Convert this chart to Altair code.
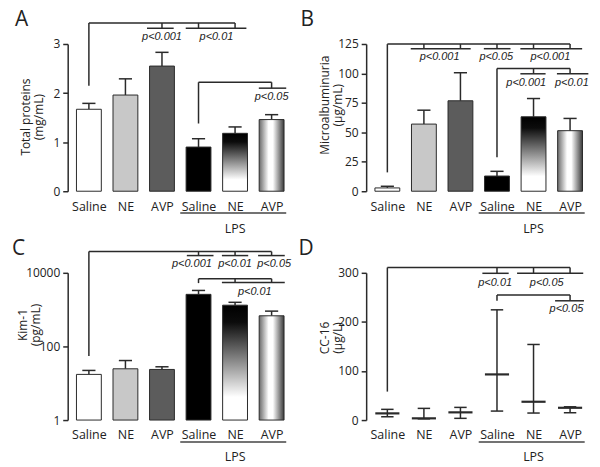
import altair as alt
import pandas as pd

# ---------------- data ----------------
groups = ["Saline", "NE", "AVP", "Saline", "NE", "AVP"]
group_pos = [0, 1, 2, 3, 4, 5]
solid_fills = ["#ffffff", "#c8c8c8", "#5c5c5c", "#000000"]
panel_letters = ["A", "B", "C", "D"]
lps_label = "LPS"
lps_span = [2.5, 5.4]
lps_center = 4

protein_mean = [1.67, 1.96, 2.55, 0.90, 1.18, 1.46]
protein_upper = [1.79, 2.29, 2.83, 1.07, 1.31, 1.56]

albumin_mean = [2.8, 57.0, 76.8, 12.9, 63.2, 51.4]
albumin_upper = [4.2, 68.8, 100.6, 16.9, 78.7, 61.8]

kim_mean = [17.4, 24.7, 23.7, 2600, 1320, 680]
kim_upper = [22.3, 41.4, 28.0, 3320, 1580, 910]

cc16_median = [13.6, 3.5, 15.7, 93.0, 37.3, 25.0]
cc16_min = [6.7, 2.5, 3.5, 18.3, 14.3, 14.9]
cc16_max = [21.8, 23.8, 25.8, 224.6, 154.0, 27.0]

# brackets: level y, from/to group, stem end, tick groups, tick end, short spans
protein_brackets = [
    dict(y=3.43, x0=0, x1=4, stem=2.15, ticks=[2, 3, 4], tick_end=3.32,
         spans=[(1.59, 2.32), (2.65, 4.31)]),
    dict(y=2.22, x0=3, x1=5, stem=1.38, ticks=[5], tick_end=2.10,
         spans=[(4.65, 5.40)]),
]
protein_pvals = [("p<0.001", 2.0, 3.14), ("p<0.01", 3.49, 3.14), ("p<0.05", 5.0, 1.91)]

albumin_brackets = [
    dict(y=124.9, x0=0, x1=5, stem=16, ticks=[1, 2, 3, 4, 5], tick_end=121,
         spans=[(0.64, 2.28), (2.64, 3.37), (3.64, 5.33)]),
    dict(y=104.2, x0=3, x1=5, stem=28.9, ticks=[4, 5], tick_end=99.7,
         spans=[(3.64, 4.33), (4.64, 5.50)]),
]
albumin_pvals = [("p<0.001", 1.43, 113.7), ("p<0.05", 2.98, 113.7), ("p<0.001", 4.46, 113.7),
                 ("p<0.001", 3.8, 92.1), ("p<0.01", 5.05, 92.1)]

kim_brackets = [
    dict(y=37650, x0=0, x1=5, stem=55, ticks=[3, 4, 5], tick_end=29400,
         spans=[(2.68, 3.41), (3.64, 4.36), (4.63, 5.36)]),
    dict(y=6890, x0=3, x1=5, stem=5250, ticks=[4, 5], tick_end=5470,
         spans=[(3.64, 5.36)]),
]
kim_pvals = [("p<0.001", 2.82, 17500), ("p<0.01", 4.0, 17500), ("p<0.05", 5.07, 17500),
             ("p<0.01", 4.54, 3090)]

cc16_brackets = [
    dict(y=310.8, x0=0, x1=5, stem=58, ticks=[3, 4, 5], tick_end=299,
         spans=[(2.6, 3.32), (3.55, 5.36)]),
    dict(y=255, x0=3, x1=5, stem=243, ticks=[5], tick_end=243,
         spans=[(4.59, 5.38)]),
]
cc16_pvals = [("p<0.01", 2.95, 279), ("p<0.05", 4.36, 279), ("p<0.05", 4.9, 226)]

# ---------------- style / layout ----------------
W, H = 227, 148
XDOM = [-0.58, 5.6]
INK = "#222222"
LINE = "#2a2a2a"
FONT = "Open Sans"

label_expr = "[" + ",".join("'%s'" % g for g in groups) + "][datum.value]"
x_scale = alt.Scale(domain=XDOM, nice=False, zero=False)
x_axis = alt.Axis(values=group_pos, labelExpr=label_expr, title=None, domain=False,
                  ticks=False, tickSize=0, grid=False, labelPadding=9,
                  labelFontSize=12.5, labelFont=FONT, labelColor=INK,
                  labelFlush=False, labelOverlap=False, labelBound=False)


def X(field):
    return alt.X(field, type="quantitative", scale=x_scale, axis=x_axis)


def make_Y(yscale, yaxis):
    def Y(field):
        return alt.Y(field, type="quantitative", scale=yscale, axis=yaxis)
    return Y


def y_axis(title, values, title_y, fmt=None, title_x=-35):
    kw = dict(title=title, values=values, grid=False, domain=True, domainColor=LINE,
              domainWidth=1.5, ticks=True, tickSize=5, tickWidth=1.5, tickColor=LINE,
              labelFont=FONT, labelFontSize=12, labelColor=INK, labelPadding=3,
              titleFont=FONT, titleFontSize=12, titleFontWeight="normal", titleColor=INK,
              titleX=title_x, titleY=title_y, titleLineHeight=13, titleBaseline="bottom",
              titleAlign="center")
    if fmt:
        kw["format"] = fmt
    return alt.Axis(**kw)


ne_grad = {"gradient": "linear", "x1": 0, "x2": 0, "y1": 0, "y2": 1,
           "stops": [{"offset": 0, "color": "#000000"}, {"offset": 0.15, "color": "#0c0c0c"},
                     {"offset": 0.8, "color": "#ffffff"}, {"offset": 1, "color": "#ffffff"}]}
avp_grad = {"gradient": "linear", "x1": 0, "x2": 1, "y1": 0, "y2": 0,
            "stops": [{"offset": 0, "color": "#6a6a6a"}, {"offset": 0.38, "color": "#ffffff"},
                      {"offset": 0.55, "color": "#ffffff"}, {"offset": 1, "color": "#3a3a3a"}]}


def bracket_segments(brackets):
    rows = []
    for b in brackets:
        rows.append(dict(xa=b["x0"], xb=b["x1"], ya=b["y"], yb=b["y"]))
        rows.append(dict(xa=b["x0"], xb=b["x0"], ya=b["y"], yb=b["stem"]))
        for t in b["ticks"]:
            rows.append(dict(xa=t, xb=t, ya=b["y"], yb=b["tick_end"]))
        for a, c in b["spans"]:
            rows.append(dict(xa=a, xb=c, ya=b["tick_end"], yb=b["tick_end"]))
    return pd.DataFrame(rows)


def bracket_layers(brackets, pvals, Y):
    seg = bracket_segments(brackets)
    rules = alt.Chart(seg).mark_rule(color=LINE, strokeWidth=1.5).encode(
        x=X("xa"), x2="xb", y=Y("ya"), y2="yb")
    pv = pd.DataFrame(pvals, columns=["label", "pos", "yv"])
    txt = alt.Chart(pv).mark_text(font="Liberation Sans", fontStyle="italic", fontSize=11,
                                  color=INK, baseline="middle", align="center").encode(
        x=X("pos"), y=Y("yv"), text="label:N")
    return [rules, txt]


def bar_layers(mean, upper, base, Y):
    df = pd.DataFrame({"pos": group_pos, "val": mean, "up": upper, "base": [base] * 6})
    b = alt.Chart(df).transform_calculate(
        xl="datum.pos - 0.34", xr="datum.pos + 0.34",
        cl="datum.pos - 0.18", cr="datum.pos + 0.18")
    err = b.mark_rule(color=LINE, strokeWidth=1.5).encode(x=X("pos"), y=Y("val"), y2="up")
    cap = b.mark_rule(color=LINE, strokeWidth=1.5).encode(x=X("cl"), x2="cr", y=Y("up"))
    solid = b.transform_filter("datum.pos <= 3").mark_bar(stroke=LINE, strokeWidth=1).encode(
        x=X("xl"), x2="xr", y=Y("val"), y2="base",
        fill=alt.Fill("pos:N", scale=alt.Scale(domain=group_pos[:4], range=solid_fills),
                      legend=None))
    ne = b.transform_filter("datum.pos == 4").mark_bar(
        stroke=LINE, strokeWidth=1, fill=ne_grad).encode(
        x=X("xl"), x2="xr", y=Y("val"), y2="base")
    avp = b.transform_filter("datum.pos == 5").mark_bar(
        stroke=LINE, strokeWidth=1, fill=avp_grad).encode(
        x=X("xl"), x2="xr", y=Y("val"), y2="base")
    return [err, cap, solid, ne, avp]


def range_layers(med, lo, hi, Y):
    df = pd.DataFrame({"pos": group_pos, "med": med, "lo": lo, "hi": hi})
    b = alt.Chart(df).transform_calculate(
        cl="datum.pos - 0.17", cr="datum.pos + 0.17",
        ml="datum.pos - 0.33", mr="datum.pos + 0.33")
    whisk = b.mark_rule(color=LINE, strokeWidth=1.5).encode(x=X("pos"), y=Y("lo"), y2="hi")
    cap_lo = b.mark_rule(color=LINE, strokeWidth=1.5).encode(x=X("cl"), x2="cr", y=Y("lo"))
    cap_hi = b.mark_rule(color=LINE, strokeWidth=1.5).encode(x=X("cl"), x2="cr", y=Y("hi"))
    median = b.mark_rule(color=LINE, strokeWidth=2.2).encode(x=X("ml"), x2="mr", y=Y("med"))
    return [whisk, cap_lo, cap_hi, median]


def common_layers(letter, letter_dx):
    lps_df = pd.DataFrame({"a": [lps_span[0]], "b": [lps_span[1]], "c": [lps_center],
                           "t": [lps_label]})
    under = alt.Chart(lps_df).mark_rule(color="#444444", strokeWidth=1.5).encode(
        x=X("a"), x2="b", y=alt.value(H + 22))
    lps_txt = alt.Chart(lps_df).mark_text(font=FONT, fontSize=12.5, color=INK,
                                          baseline="alphabetic", align="center").encode(
        x=X("c"), y=alt.value(H + 41.5), text="t:N")
    let_df = pd.DataFrame({"t": [letter]})
    let_txt = alt.Chart(let_df).mark_text(font=FONT, fontSize=21, color=INK, align="left",
                                          baseline="alphabetic").encode(
        x=alt.value(letter_dx), y=alt.value(-18), text="t:N")
    return [under, lps_txt, let_txt]


# Panel A
YA = make_Y(alt.Scale(domain=[0, 3], nice=False, zero=False),
            y_axis(["Total proteins", "(mg/mL)"], [0, 1, 2, 3], 73))
pA = alt.layer(*bar_layers(protein_mean, protein_upper, 0, YA),
               *bracket_layers(protein_brackets, protein_pvals, YA),
               *common_layers(panel_letters[0], -53)).properties(width=W, height=H)

# Panel B
YB = make_Y(alt.Scale(domain=[0, 125], nice=False, zero=False),
            y_axis(["Microalbuminuria", "(µg/mL)"], [0, 25, 50, 75, 100, 125], 61))
pB = alt.layer(*bar_layers(albumin_mean, albumin_upper, 0, YB),
               *bracket_layers(albumin_brackets, albumin_pvals, YB),
               *common_layers(panel_letters[1], -66)).properties(width=W, height=H)

# Panel C (log)
YC = make_Y(alt.Scale(type="log", domain=[1, 10000], nice=False),
            y_axis(["Kim-1", "(pg/mL)"], [1, 100, 10000], 52, fmt="d", title_x=-38))
pC = alt.layer(*bar_layers(kim_mean, kim_upper, 1, YC),
               *bracket_layers(kim_brackets, kim_pvals, YC),
               *common_layers(panel_letters[2], -56)).properties(width=W, height=H)

# Panel D
YD = make_Y(alt.Scale(domain=[0, 300], nice=False, zero=False),
            y_axis(["CC-16", "(µg/L)"], [0, 100, 200, 300], 65))
pD = alt.layer(*range_layers(cc16_median, cc16_min, cc16_max, YD),
               *bracket_layers(cc16_brackets, cc16_pvals, YD),
               *common_layers(panel_letters[3], -68)).properties(width=W, height=H)

chart = alt.concat(pA, pB, pC, pD, columns=2, spacing={"row": 82, "column": 73},
                   bounds="flush").properties(
    padding={"left": 4, "top": 0, "right": 0, "bottom": 0}
).configure_view(stroke=None)

chart.save("out.html", embed_options={"renderer": "svg", "actions": False})
